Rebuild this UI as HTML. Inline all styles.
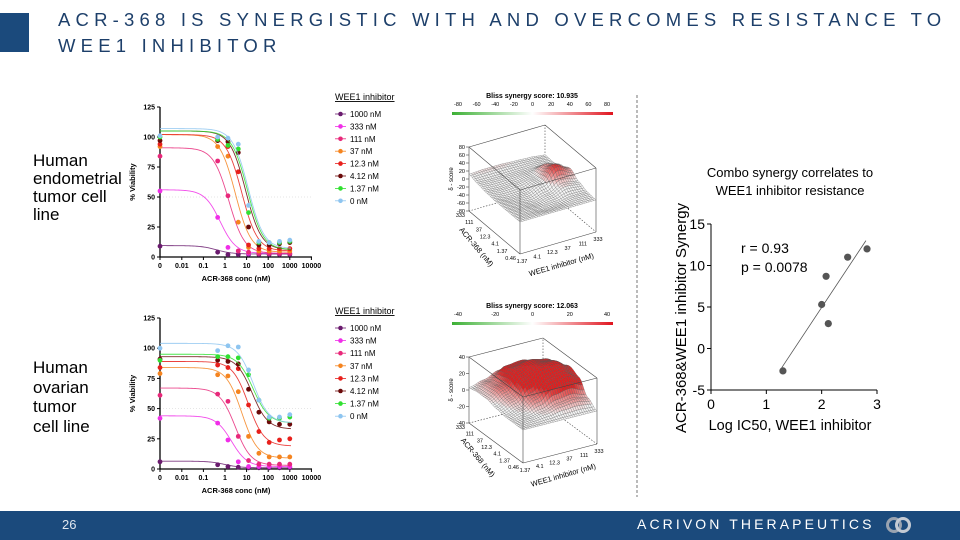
<!DOCTYPE html>
<html><head><meta charset="utf-8">
<style>
html,body{margin:0;padding:0;background:#fff;}
body{width:960px;height:540px;position:relative;overflow:hidden;font-family:"Liberation Sans",Arial,sans-serif;}
.abs{position:absolute;}
.title{left:58px;color:#1d3f6a;font-size:18.5px;letter-spacing:5.2px;white-space:nowrap;}
.side{left:33px;font-size:17px;color:#000;white-space:nowrap;}
</style></head><body>
<div class="abs" style="left:0;top:13px;width:29px;height:39px;background:#1b4a7c"></div>
<div class="abs title" style="top:9px">ACR-368 IS SYNERGISTIC WITH AND OVERCOMES RESISTANCE TO</div>
<div class="abs title" style="top:35px">WEE1 INHIBITOR</div>

<div class="abs side" style="top:152px;line-height:18px">Human<br>endometrial<br>tumor cell<br>line</div>
<div class="abs side" style="top:358px;line-height:19.5px">Human<br>ovarian<br>tumor<br>cell line</div>

<svg id="main" class="abs" style="left:0;top:0" width="960" height="540"></svg>

<div class="abs" style="left:0;top:511px;width:960px;height:29px;background:#1b4a7c"></div>
<div class="abs" style="left:62px;top:517px;color:#dfe6ef;font-size:13px">26</div>
<div class="abs" style="left:637px;top:516px;color:#fff;font-size:14px;letter-spacing:3.1px;white-space:nowrap">ACRIVON THERAPEUTICS</div>
<svg class="abs" style="left:886px;top:515px" width="26" height="20">
<circle cx="8" cy="10" r="6.5" fill="none" stroke="#9aa3b0" stroke-width="3"/>
<circle cx="17" cy="10" r="6.5" fill="none" stroke="#c4cad3" stroke-width="3"/>
</svg>

<script>
// ---------- data ----------
const concs = [0, 0.457, 1.37, 4.12, 12.3, 37, 111, 333, 1000];
const seriesNames = ["1000 nM","333 nM","111 nM","37 nM","12.3 nM","4.12 nM","1.37 nM","0 nM"];
const seriesColors = ["#6a1b6e","#f02ee8","#e8287a","#f5841f","#e8201c","#6b0a0a","#30e030","#8ec5f0"];
const endoValues = [
 [9,4,2,2,2,2,2,2,2],
 [55,33,8,5,3,3,3,3,3],
 [84,80,51,5,4,3,3,3,3],
 [92,92,84,29,8,5,5,5,5],
 [94,97,92,71,10,7,7,7,7],
 [97,97,96,87,25,10,10,11,12],
 [100,98,93,90,37,12,12,12,13],
 [101,100,99,94,43,13,12,13,14]];
const endoTop = [9.5,56,91,102,102,105,105,107];
const endoBottom = [2.5,3,3,4,5,6,6,7];
const endoIC50 = [0.4,0.6,1.5,3,6,9,11,12];
const ovaValues = [
 [6,3.5,2,1.5,1,1,1,1,1],
 [42,38,24,6,2,2,2,2,2],
 [61,62,56,27,7,4,4,4,4],
 [79,78,77,64,27,13,10,10,10],
 [84,86,84,83,53,31,22,24,25],
 [91,90,89,87,66,47,39,37,37],
 [90,93,93,92,78,57,42,42,43],
 [100,98,102,101,82,57,43,43,45]];
const ovaTop = [6.5,44,67,84,89,93,95,104];
const ovaBottom = [1,2,3,9,19,33,38,38];
const ovaIC50 = [1,2,3,6,12,18,20,20];
const xTickLabels = ["0","0.01","0.1","1","10","100","1000","10000"];
const yTickValues = [0,25,50,75,100,125];

const acrDoses = ["0.46","1.37","4.1","12.3","37","111","333"];
const weeDoses = ["1.37","4.1","12.3","37","111","333"];
const endoSynergy = [
 [0,0,0,0,0,0],
 [0,-2,-6,-4,2,2],
 [0,-4,-8,0,15,10],
 [0,-5,-4,10,45,25],
 [2,0,2,8,28,15],
 [6,5,5,6,8,5],
 [12,14,14,12,10,6]];
const ovaSynergy = [
 [0,0,0,0,0,0],
 [0,2,5,10,12,8],
 [0,5,15,30,35,25],
 [2,10,28,40,40,30],
 [5,15,32,38,35,25],
 [5,12,28,30,25,15],
 [3,8,15,15,12,8]];

const scatterX = [1.3,2.0,2.08,2.12,2.47,2.82];
const scatterY = [-2.7,5.3,8.7,3.0,11.0,12.0];
const fitLine = [[1.28,-2.3],[2.8,13]];
const scatterXTicks = [0,1,2,3];
const scatterYTicks = [-5,0,5,10,15];

// ---------- helpers ----------
const NS="http://www.w3.org/2000/svg";
const svg=document.getElementById('main');
function mk(tag,attrs,parent,text){
  const e=document.createElementNS(NS,tag);
  for(const k in attrs)e.setAttribute(k,attrs[k]);
  if(text!==undefined)e.textContent=text;
  (parent||svg).appendChild(e);return e;
}

// ---------- dose-response charts ----------
function drawDR(name,yBase,yTopPx,vals,tops,bots,ics,legY,legStep){
  const g=mk('g',{});
  
  
  const xOne=225, dec=21.6, x0=160;
  const xs=c=> c<=0? x0 : xOne+Math.log10(c)*dec;
  const ys=v=> yBase-(v/125)*(yBase-yTopPx);
  const l50=mk('line',{x1:x0,x2:312,y1:ys(50),y2:ys(50),stroke:'#ddd','stroke-dasharray':'1,2','stroke-width':0.8},g);
  
  
  const ax=mk('path',{d:`M${x0} ${yTopPx}V${yBase}H312`,stroke:'#000','stroke-width':1.3,fill:'none'},g);
  
  
  yTickValues.forEach(v=>{
    mk('line',{x1:x0-3,x2:x0,y1:ys(v),y2:ys(v),stroke:'#000'},g);
    const t=mk('text',{x:x0-5,y:ys(v)+2.5,'text-anchor':'end','font-size':7,'font-weight':'bold'},g,v);
    
    
  });
  xTickLabels.forEach((lab,i)=>{
    const px= i===0? x0 : xOne+(i-3)*dec;
    mk('line',{x1:px,x2:px,y1:yBase,y2:yBase+3,stroke:'#000'},g);
    const t=mk('text',{x:px,y:yBase+11,'text-anchor':'middle','font-size':7,'font-weight':'bold'},g,lab);
    
    
  });
  const xl=mk('text',{x:236,y:yBase+24,'text-anchor':'middle','font-size':7.5,'font-weight':'bold'},g,'ACR-368 conc (nM)');
  
  
  const yl=mk('text',{x:0,y:0,'text-anchor':'middle','font-size':7.5,'font-weight':'bold',transform:`translate(135,${(yBase+yTopPx)/2}) rotate(-90)`},g,'% Viability');
  
  
  for(let s=0;s<vals.length;s++){
    let d='';
    for(let px=x0;px<=291;px+=1){
      const c=Math.pow(10,(px-xOne)/dec);
      const v=bots[s]+(tops[s]-bots[s])/(1+Math.pow(c/ics[s],1.2));
      d+=(px===x0?'M':'L')+px+' '+ys(v).toFixed(2);
    }
    const cv=mk('path',{d,stroke:seriesColors[s],'stroke-width':0.9,fill:'none',opacity:0.85},g);
    
    
    vals[s].forEach((v,i)=>{
      const p=mk('circle',{cx:xs(concs[i]),cy:ys(v),r:2.4,fill:seriesColors[s]},g);
      
      
    });
  }
  const lt=mk('text',{x:335,y:legY,'font-size':9,'text-decoration':'underline'},g,'WEE1 inhibitor');
  
  
  seriesNames.forEach((n,i)=>{
    const y=legY+14+i*legStep;
    mk('line',{x1:335,x2:346,y1:y,y2:y,stroke:seriesColors[i],'stroke-width':0.8},g);
    const m=mk('circle',{cx:340.5,cy:y,r:2.3,fill:seriesColors[i]},g);
    
    
    const t=mk('text',{x:350,y:y+3,'font-size':8},g,n);
    
    
  });
}
drawDR('endometrial-dose-response',257,107,endoValues,endoTop,endoBottom,endoIC50,100,12.4);
drawDR('ovarian-dose-response',469,318,ovaValues,ovaTop,ovaBottom,ovaIC50,314,12.6);

// ---------- 3D synergy surfaces ----------
function interp(grid,a,b){
  const R=grid.length-1,C=grid[0].length-1;
  const fr=a*R,fc=b*C;
  const r0=Math.min(Math.floor(fr),R-1),c0=Math.min(Math.floor(fc),C-1);
  let tr=fr-r0,tc=fc-c0;
  tr=(1-Math.cos(Math.PI*tr))/2; tc=(1-Math.cos(Math.PI*tc))/2;
  const v00=grid[r0][c0],v01=grid[r0][c0+1],v10=grid[r0+1][c0],v11=grid[r0+1][c0+1];
  return (v00*(1-tc)+v01*tc)*(1-tr)+(v10*(1-tc)+v11*tc)*tr;
}
function drawSurface(name,grid,F,u,v,h,zMax,cbY,score,ticks,redStart){
  const g=mk('g',{});
  
  
  const P=(a,b,z)=>[F[0]+a*u[0]+b*v[0], F[1]+a*u[1]+b*v[1]-(z+zMax)/(2*zMax)*h];
  const gid='cb'+name;
  const defs=mk('defs',{},g);
  const lg=mk('linearGradient',{id:gid},defs);
  mk('stop',{offset:'0','stop-color':'#3cb034'},lg);
  mk('stop',{offset:'0.5','stop-color':'#ffffff'},lg);
  mk('stop',{offset:'1','stop-color':'#e0141e'},lg);
  const cb=mk('rect',{x:452,y:cbY+14,width:161,height:3,fill:`url(#${gid})`},g);
  
  
  const st=mk('text',{x:532,y:cbY,'text-anchor':'middle','font-size':7,'font-weight':'bold'},g,'Bliss synergy score: '+score);
  
  
  ticks.forEach((t,i)=>{
    const x=452+6+i*(149/(ticks.length-1));
    const tt=mk('text',{x,y:cbY+8,'text-anchor':'middle','font-size':5.5},g,t);
    
    
  });
  const bk={stroke:'#444','stroke-width':0.6,fill:'none'};
  const L=(p,q,st)=>mk('line',Object.assign({x1:p[0],y1:p[1],x2:q[0],y2:q[1]},st),g);
  L(P(1,0,-zMax),P(1,0,zMax),bk);
  L(P(0,1,-zMax),P(0,1,zMax),bk);
  L(P(1,1,-zMax),P(1,1,zMax),Object.assign({'stroke-dasharray':'1.5,1.5'},bk));
  L(P(1,1,-zMax),P(1,0,-zMax),Object.assign({'stroke-dasharray':'1.5,1.5'},bk));
  L(P(1,1,-zMax),P(0,1,-zMax),Object.assign({'stroke-dasharray':'1.5,1.5'},bk));
  L(P(1,0,zMax),P(1,1,zMax),bk);L(P(1,1,zMax),P(0,1,zMax),bk);
  const N=34,quads=[];
  for(let i=0;i<N;i++)for(let j=0;j<N;j++){
    const a0=i/N,a1=(i+1)/N,b0=j/N,b1=(j+1)/N;
    const zc=interp(grid,(a0+a1)/2,(b0+b1)/2);
    const pts=[P(a0,b0,interp(grid,a0,b0)),P(a0,b1,interp(grid,a0,b1)),P(a1,b1,interp(grid,a1,b1)),P(a1,b0,interp(grid,a1,b0))];
    quads.push({d:43*(a0+a1)+22*(b0+b1),pts,zc});
  }
  quads.sort((p,q)=>q.d-p.d);
  const sg=mk('g',{},g);
  
  
  quads.forEach(q=>{
    let f='#f4f4f4';
    if(q.zc>redStart){const t=Math.min(1,(q.zc-redStart)/(zMax*0.45));
      f=`rgb(${Math.round(244-20*t)},${Math.round(236-205*t)},${Math.round(236-205*t)})`;}
    mk('polygon',{points:q.pts.map(p=>p[0].toFixed(1)+','+p[1].toFixed(1)).join(' '),fill:f,stroke:'#555','stroke-width':0.25},sg);
  });
  L(P(0,0,-zMax),P(0,0,zMax),bk);
  L(P(0,0,zMax),P(1,0,zMax),bk);L(P(0,0,zMax),P(0,1,zMax),bk);
  L(P(0,0,-zMax),P(1,0,-zMax),bk);L(P(0,0,-zMax),P(0,1,-zMax),bk);
  for(let z=-zMax;z<=zMax;z+=20){
    const p=P(1,0,z);
    L([p[0]-3,p[1]],p,bk);
    const t=mk('text',{x:p[0]-4,y:p[1]+2,'text-anchor':'end','font-size':5.5},g,z);
    
    
  }
  const zp=P(1,0,0);
  const zt=mk('text',{'text-anchor':'middle','font-size':6,transform:`translate(${zp[0]-16},${zp[1]}) rotate(-90)`},g,'δ - score');
  
  
  acrDoses.forEach((d,i)=>{
    const q=P(i/(acrDoses.length-1),0,-zMax);
    const t=mk('text',{x:q[0]-4,y:q[1]+6,'text-anchor':'end','font-size':5.5},g,d);
    
    
  });
  weeDoses.forEach((d,i)=>{
    const q=P(0,i/(weeDoses.length-1),-zMax);
    const t=mk('text',{x:q[0]+2,y:q[1]+9,'text-anchor':'middle','font-size':5.5},g,d);
    
    
  });
  const pa=P(0.5,0,-zMax);
  const at=mk('text',{'text-anchor':'middle','font-size':7.5,transform:`translate(${pa[0]-20},${pa[1]+16}) rotate(50)`},g,'ACR-368 (nM)');
  
  
  const pb=P(0,0.5,-zMax);
  const bt=mk('text',{'text-anchor':'middle','font-size':7.5,transform:`translate(${pb[0]+4},${pb[1]+24}) rotate(-16)`},g,'WEE1 inhibitor (nM)');
  
  
}
drawSurface('endometrial-synergy-3d',endoSynergy,[520,254],[-51,-43],[76,-22],64,80,98,'10.935',[-80,-60,-40,-20,0,20,40,60,80],12);
drawSurface('ovarian-synergy-3d',ovaSynergy,[523,463],[-54,-40],[74,-19],66,40,308,'12.063',[-40,-20,0,20,40],4);

const dv=mk('line',{x1:637,x2:637,y1:95,y2:497,stroke:'#555','stroke-dasharray':'3,2','stroke-width':0.8});



// ---------- scatter ----------
(function(){
  const g=mk('g',{});
  
  
  const X=x=>711+x*55.33, Y=y=>390-(y+5)*8.3;
  const ax=mk('path',{d:`M${X(0)} ${Y(15)}V${Y(-5)}H${X(3)}`,stroke:'#000','stroke-width':1,fill:'none'},g);
  
  
  scatterYTicks.forEach(v=>{
    mk('line',{x1:X(0)-4,x2:X(0),y1:Y(v),y2:Y(v),stroke:'#000'},g);
    const t=mk('text',{x:X(0)-6,y:Y(v)+5,'text-anchor':'end','font-size':14},g,v);
    
    
  });
  scatterXTicks.forEach(v=>{
    mk('line',{x1:X(v),x2:X(v),y1:Y(-5),y2:Y(-5)+4,stroke:'#000'},g);
    const t=mk('text',{x:X(v),y:Y(-5)+19,'text-anchor':'middle','font-size':14},g,v);
    
    
  });
  const fl=mk('line',{x1:X(fitLine[0][0]),y1:Y(fitLine[0][1]),x2:X(fitLine[1][0]),y2:Y(fitLine[1][1]),stroke:'#555','stroke-width':0.8},g);
  
  
  scatterX.forEach((x,i)=>{
    const c=mk('circle',{cx:X(x),cy:Y(scatterY[i]),r:3.6,fill:'#555'},g);
    
    
  });
  const texts=[['Combo synergy correlates to',790,177,13,'scatter-title-line1'],['WEE1 inhibitor resistance',790,195,13,'scatter-title-line2'],
    ['r = 0.93',741,253,14,'r-value'],['p = 0.0078',741,272,14,'p-value'],['Log IC50, WEE1 inhibitor',790,430,14.5,'scatter-x-title']];
  texts.forEach(([s,x,y,fs,n])=>{
    const t=mk('text',{x,y,'font-size':fs,'text-anchor':n.startsWith('r-')||n.startsWith('p-')?'start':'middle'},g,s);
    
    
  });
  const yt=mk('text',{'text-anchor':'middle','font-size':15,transform:'translate(686,318) rotate(-90)'},g,'ACR-368&WEE1 inhibitor Synergy');
  
  
})();
</script>
</body></html>
